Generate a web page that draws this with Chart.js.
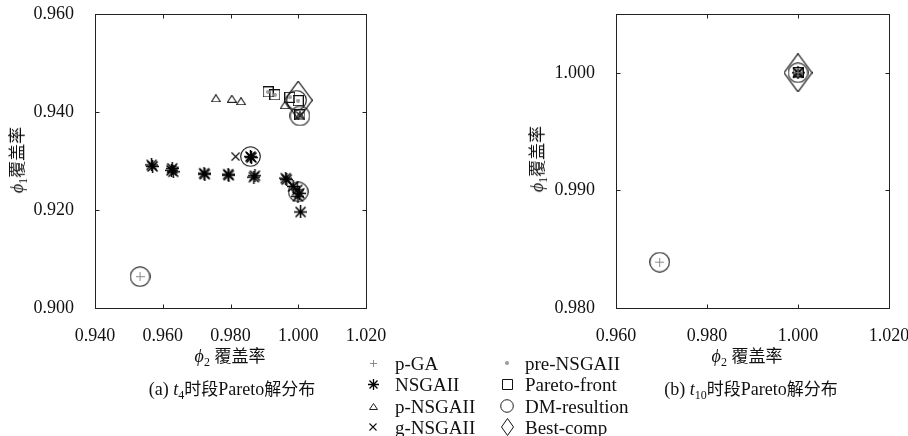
<!DOCTYPE html>
<html>
<head>
<meta charset="utf-8">
<script src="https://cdn.jsdelivr.net/npm/chart.js@4.4.1/dist/chart.umd.min.js"></script>
<style>
  body{margin:0;background:#fff;width:908px;height:436px;position:relative;overflow:hidden;
       font-family:'Liberation Serif','Noto Sans CJK SC',serif;color:#111}
  canvas.plot{position:absolute;top:0}
  .t{position:absolute;font-size:18px;white-space:nowrap;line-height:1;transform:translate(-50%,-50%)}
  .rot{transform:translate(-50%,-50%) rotate(-90deg)}
  .zh{font-family:'Noto Sans CJK SC',sans-serif;font-size:17px}
  .t sub{font-size:12px;vertical-align:-4px}
  .lg{position:absolute;font-size:19px;white-space:nowrap;line-height:1;transform:translateY(-50%)}
  .lm{position:absolute}
</style>
</head>
<body>
<canvas id="chartA" class="plot" width="400" height="345" style="left:0"></canvas>
<canvas id="chartB" class="plot" width="387" height="345" style="left:521px"></canvas>

<div class="t rot" style="left:18px;top:160px"><i>ϕ</i><sub>1</sub><span class="zh">覆盖率</span></div>
<div class="t rot" style="left:538px;top:159px"><i>ϕ</i><sub>1</sub><span class="zh">覆盖率</span></div>
<div class="t" style="left:230px;top:357px"><i>ϕ</i><sub>2</sub> <span class="zh">覆盖率</span></div>
<div class="t" style="left:747px;top:357px"><i>ϕ</i><sub>2</sub> <span class="zh">覆盖率</span></div>
<div class="t" style="left:232px;top:390px">(a) <i>t</i><sub>4</sub><span class="zh">时段</span>Pareto<span class="zh">解分布</span></div>
<div class="t" style="left:751px;top:390px">(b) <i>t</i><sub>10</sub><span class="zh">时段</span>Pareto<span class="zh">解分布</span></div>
<div id="legend"></div>

<script>
// axis ranges and ticks
const xTicksA = [0.94, 0.96, 0.98, 1.00, 1.02];
const yTicksA = [0.90, 0.92, 0.94, 0.96];
const xTicksB = [0.96, 0.98, 1.00, 1.02];
const yTicksB = [0.98, 0.99, 1.00];
const yMaxB = 1.005;

const seriesNames = ['p-GA', 'NSGAII', 'p-NSGAII', 'g-NSGAII', 'pre-NSGAII', 'Pareto-front', 'DM-resultion', 'Best-comp'];

// (a) t4 period  [phi2, phi1]
const pgaA = [[0.9533, 0.9064]];
const nsgaA = [[0.9567, 0.9292], [0.9570, 0.9289], [0.9628, 0.9285], [0.9631, 0.9278], [0.9626, 0.9281],
  [0.9722, 0.9275], [0.9724, 0.9273], [0.9793, 0.9273], [0.9795, 0.9271], [0.9872, 0.9270], [0.9869, 0.9267],
  [0.9859, 0.9309], [0.9862, 0.9307], [0.9963, 0.9265], [0.9966, 0.9262], [0.9985, 0.9248], [0.9997, 0.9241],
  [1.0003, 0.9234], [0.9999, 0.9228], [1.0007, 0.9196]];
const pnsgaA = [[0.9757, 0.9428], [0.9804, 0.9427], [0.9831, 0.9422], [0.9960, 0.9414], [1.0005, 0.9393]];
const gnsgaA = [[0.9815, 0.9309], [0.9859, 0.9309], [1.0005, 0.9393]];
const preA = [[0.9911, 0.9441], [0.9931, 0.9435], [0.9975, 0.9430], [1.0000, 0.9423], [1.0005, 0.9394]];
const paretoA = [[0.9911, 0.9441], [0.9931, 0.9435], [0.9975, 0.9430], [1.0000, 0.9423], [1.0005, 0.9394]];
const dmA = [[0.9533, 0.9064], [0.9859, 0.9309], [1.0000, 0.9237], [0.9995, 0.9424], [1.0005, 0.9392]];
const bestA = [[1.0000, 0.9424]];

// (b) t10 period
const pgaB = [[0.9696, 0.9839], [1.0, 1.0]];
const nsgaB = [[1.0, 1.0]];
const pnsgaB = [[1.0, 1.0]];
const gnsgaB = [[1.0, 1.0]];
const preB = [[1.0, 1.0]];
const paretoB = [[1.0, 1.0]];
const dmB = [[0.9696, 0.9839], [1.0, 1.0]];
const bestB = [[1.0, 1.0]];

// small canvases used as point styles
function marker(kind, w, h, color, lw) {
  const c = document.createElement('canvas'); c.width = w; c.height = h;
  const g = c.getContext('2d');
  g.strokeStyle = color; g.fillStyle = color; g.lineWidth = lw || 1;
  const cx = w / 2, cy = h / 2;
  g.beginPath();
  if (kind === 'plus' || kind === 'star') { g.moveTo(cx, 0); g.lineTo(cx, h); g.moveTo(0, cy); g.lineTo(w, cy); }
  if (kind === 'x' || kind === 'star') { const d = kind === 'star' ? 1.5 : 0.5; g.moveTo(d, d); g.lineTo(w - d, h - d); g.moveTo(w - d, d); g.lineTo(d, h - d); }
  if (kind === 'tri') { g.moveTo(cx, 0.5); g.lineTo(w - 0.5, h - 0.5); g.lineTo(0.5, h - 0.5); g.closePath(); }
  if (kind === 'square') g.rect(0.5, 0.5, w - 1, h - 1);
  if (kind === 'circle') g.arc(cx, cy, w / 2 - 0.7, 0, Math.PI * 2);
  if (kind === 'diamond') { g.moveTo(cx, 0.5); g.lineTo(w - 0.5, cy); g.lineTo(cx, h - 0.5); g.lineTo(0.5, cy); g.closePath(); }
  if (kind === 'dot') { g.arc(cx, cy, w / 2, 0, Math.PI * 2); g.fill(); return c; }
  g.stroke();
  return c;
}

const plotStyles = [
  marker('plus', 9, 9, '#8c8c8c'),
  marker('star', 13, 13, '#000', 1.5),
  marker('tri', 10, 8, '#222', 1.2),
  marker('x', 9, 9, '#111', 1.2),
  marker('dot', 4, 4, '#9a9a9a'),
  marker('square', 11, 11, '#111', 1.2),
  marker('circle', 21, 21, '#111', 1.1),
  marker('diamond', 29, 39, '#000', 1.2)
];

// inward ticks and frame
const framePlugin = {
  id: 'frame',
  afterDraw(chart) {
    const { ctx, chartArea: a, scales } = chart;
    const L = Math.round(a.left) + 0.5, R = Math.round(a.right) + 0.5;
    const T = Math.round(a.top) + 0.5, B = Math.round(a.bottom) + 0.5;
    ctx.save();
    ctx.strokeStyle = '#222'; ctx.lineWidth = 1;
    ctx.strokeRect(L, T, R - L, B - T);
    ctx.beginPath();
    scales.x.ticks.forEach(t => {
      const px = Math.round(scales.x.getPixelForValue(t.value)) + 0.5;
      if (px - L < 2 || R - px < 2) return;
      ctx.moveTo(px, B); ctx.lineTo(px, B - 4);
      ctx.moveTo(px, T); ctx.lineTo(px, T + 4);
    });
    scales.y.ticks.forEach(t => {
      const py = Math.round(scales.y.getPixelForValue(t.value)) + 0.5;
      if (py - T < 2 || B - py < 2) return;
      ctx.moveTo(L, py); ctx.lineTo(L + 4, py);
      ctx.moveTo(R, py); ctx.lineTo(R - 4, py);
    });
    ctx.stroke();
    ctx.restore();
  }
};

function makeChart(id, groups, xt, yt, yMax, padRight) {
  const tickFont = { family: "'Liberation Serif', serif", size: 18 };
  return new Chart(document.getElementById(id), {
    type: 'scatter',
    data: {
      datasets: groups.map((g, i) => ({
        label: seriesNames[i],
        data: g.map(p => ({ x: p[0], y: p[1] })),
        pointStyle: plotStyles[i], pointRadius: 5, pointHoverRadius: 5
      }))
    },
    options: {
      responsive: false, animation: false, clip: false,
      layout: { padding: { top: 14, right: padRight, left: 0, bottom: 0 } },
      plugins: { legend: { display: false }, tooltip: { enabled: false } },
      scales: {
        x: {
          type: 'linear', min: xt[0], max: xt[xt.length - 1],
          afterBuildTicks: s => { s.ticks = xt.map(v => ({ value: v })); },
          afterFit: s => { s.height = 37; s.paddingLeft = 0; s.paddingRight = 0; },
          grid: { display: false }, border: { display: false },
          ticks: { font: tickFont, color: '#111', padding: 9, maxRotation: 0, callback: v => Number(v).toFixed(3) }
        },
        y: {
          type: 'linear', min: yt[0], max: yMax,
          afterBuildTicks: s => { s.ticks = yt.map(v => ({ value: v })); },
          afterFit: s => { s.width = 95; s.paddingTop = 0; s.paddingBottom = 0; },
          grid: { display: false }, border: { display: false },
          ticks: { font: tickFont, color: '#111', padding: 13, callback: v => Number(v).toFixed(3) }
        }
      }
    },
    plugins: [framePlugin]
  });
}

makeChart('chartA', [pgaA, nsgaA, pnsgaA, gnsgaA, preA, paretoA, dmA, bestA], xTicksA, yTicksA, yTicksA[yTicksA.length - 1], 34);
makeChart('chartB', [pgaB, nsgaB, pnsgaB, gnsgaB, preB, paretoB, dmB, bestB], xTicksB, yTicksB, yMaxB, 19);

// legend, two columns between the panels
const legendStyles = [
  marker('plus', 7, 7, '#8c8c8c'),
  marker('star', 11, 11, '#000', 1.3),
  marker('tri', 9, 7, '#222'),
  marker('x', 8, 8, '#111', 1.1),
  marker('dot', 4, 4, '#9a9a9a'),
  marker('square', 11, 11, '#111'),
  marker('circle', 14, 14, '#222'),
  marker('diamond', 13, 18, '#111')
];
const legendRows = [363, 384, 406, 427];
const legendCols = [{ m: 373, t: 395 }, { m: 507, t: 525 }];
const box = document.getElementById('legend');
seriesNames.forEach((name, i) => {
  const col = legendCols[Math.floor(i / 4)], y = legendRows[i % 4];
  const c = legendStyles[i];
  c.className = 'lm';
  c.style.left = (col.m - c.width / 2) + 'px';
  c.style.top = (y - c.height / 2) + 'px';
  box.appendChild(c);
  const s = document.createElement('div');
  s.className = 'lg'; s.textContent = name;
  s.style.left = col.t + 'px'; s.style.top = y + 'px';
  box.appendChild(s);
});
</script>
</body>
</html>
